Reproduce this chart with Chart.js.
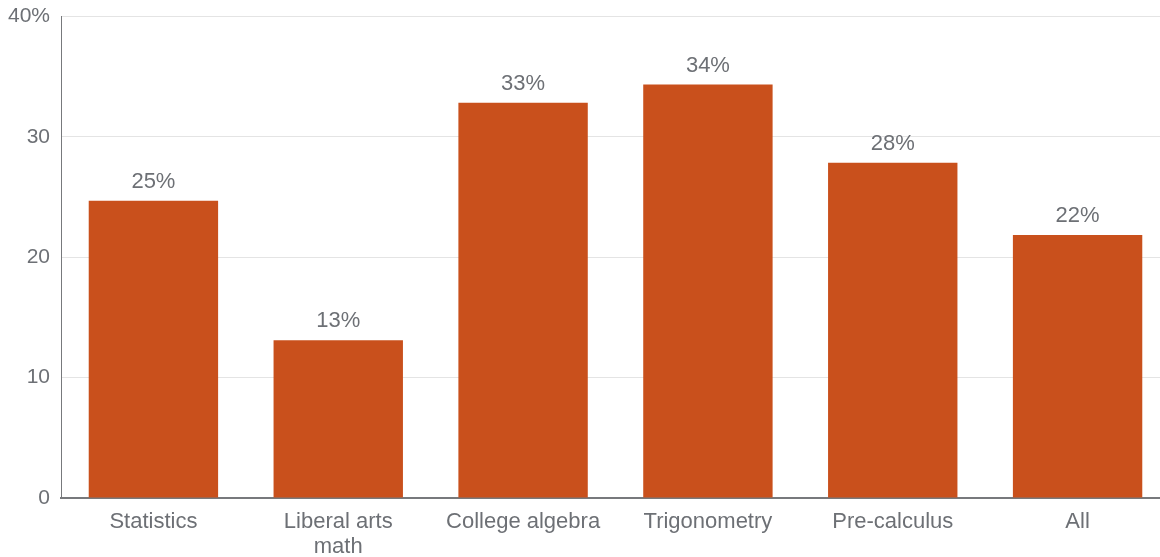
<!DOCTYPE html>
<html><head><meta charset="utf-8">
<script src="https://cdn.jsdelivr.net/npm/chart.js@4/dist/chart.umd.min.js"></script>
<style>html,body{margin:0;padding:0;overflow:hidden;background:#fff}#wrap{width:1170px;height:564px;position:relative;top:-7px}</style>
</head><body><div id="wrap"><canvas id="c"></canvas></div>
<script>
const categories = [["Statistics"], ["Liberal arts", "math"], ["College algebra"], ["Trigonometry"], ["Pre-calculus"], ["All"]];
const values = [24.7, 13.1, 32.85, 34.35, 27.85, 21.85];
const valueLabels = ["25%", "13%", "33%", "34%", "28%", "22%"];
const yTicks = [0, 10, 20, 30, 40];
const gray = "#6d7075";
const FAM = "'Liberation Sans', Arial, sans-serif";
const labelPlugin = {
  id: "vlabels",
  afterDatasetsDraw(chart) {
    const ctx = chart.ctx;
    const meta = chart.getDatasetMeta(0);
    ctx.save();
    ctx.font = "22px " + FAM;
    ctx.fillStyle = gray;
    ctx.textAlign = "center";
    ctx.textBaseline = "bottom";
    meta.data.forEach((b, i) => { ctx.fillText(valueLabels[i], b.x, b.y - 8); });
    ctx.restore();
  }
};
new Chart(document.getElementById("c"), {
  type: "bar",
  data: { labels: categories, datasets: [{ data: values, backgroundColor: "#c9501c", barPercentage: 0.7, categoryPercentage: 1 }] },
  options: {
    responsive: true, maintainAspectRatio: false, animation: false,
    layout: { padding: { top: 8, right: 0, bottom: 0, left: 0 } },
    plugins: { legend: { display: false }, tooltip: { enabled: false } },
    scales: {
      x: {
        afterFit(s) { s.height = 59; },
        grid: { display: false, drawTicks: false },
        border: { color: "#77797c", width: 2 },
        ticks: { color: gray, font: { size: 22, family: FAM, lineHeight: 1.15 }, padding: 11, maxRotation: 0, autoSkip: false }
      },
      y: {
        min: 0, max: 40,
        afterFit(s) { s.width = 61; },
        afterBuildTicks(s) { s.ticks = yTicks.map(v => ({ value: v })); },
        grid: { color: "#e4e4e4", drawTicks: false },
        border: { color: "#77797c", width: 1 },
        ticks: { color: gray, padding: 11, font: { size: 21, family: FAM }, callback: v => v === 40 ? "40%" : String(v) }
      }
    }
  },
  plugins: [labelPlugin]
});
</script></body></html>
